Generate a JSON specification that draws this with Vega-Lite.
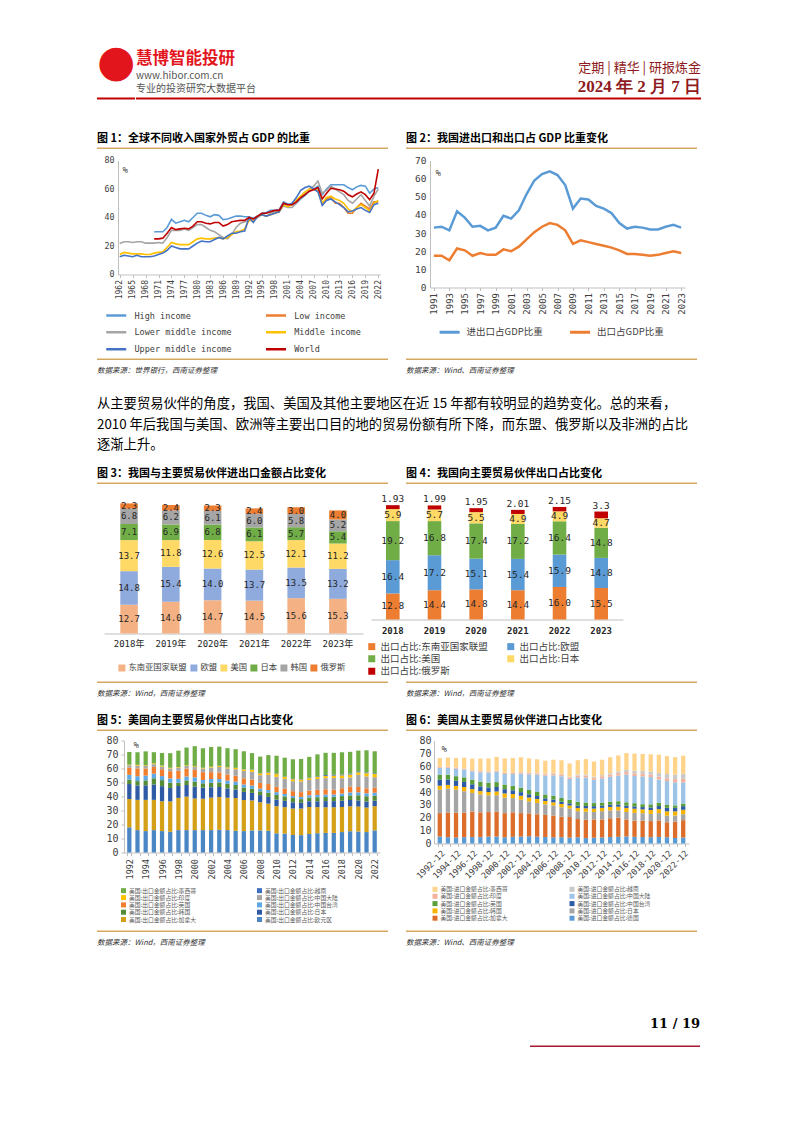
{
"$schema": "https://vega.github.io/schema/vega-lite/v6.json",
"background": "white",
"padding": {"left": 97, "top": 40.5, "right": 4, "bottom": 4},
"autosize": {"type": "pad"},
"config": {
  "view": {"stroke": null},
  "font": "Noto Sans CJK SC",
  "axis": {"labelFont": "DejaVu Sans Mono", "labelColor": "#404040", "domainColor": "#bfbfbf", "tickColor": "#bfbfbf", "grid": false, "labelFontSize": 9},
  "legend": {"labelFont": "Noto Sans CJK SC", "labelColor": "#404040"},
  "title": {"font": "Noto Sans CJK SC", "subtitleFont": "Noto Sans CJK SC", "color": "#000000", "fontWeight": "bold"}
},
"resolve": {"scale": {"color": "independent", "x": "independent", "y": "independent"}, "legend": {"color": "independent"}},
"spacing": 0,
"vconcat": [
  {
    "spacing": 0,
    "hconcat": [
      {"width": 38, "height": 2, "data": {"values": []}, "mark": "point", "encoding": {}, "view": {"fill": "#c00000", "stroke": null},
       "title": {"text": "●", "font": "DejaVu Sans", "fontSize": 44, "fontWeight": "normal", "color": "#e3151c", "anchor": "start", "offset": 13}},
      {"width": 122, "height": 2, "data": {"values": []}, "mark": "point", "encoding": {}, "view": {"fill": "#c00000", "stroke": null},
       "title": {"text": "慧博智能投研", "fontSize": 16.5, "fontWeight": "bold", "color": "#e3151c", "anchor": "start", "offset": 4,
                 "subtitle": ["www.hibor.com.cn", "专业的投资研究大数据平台"], "subtitleFontSize": 10, "subtitleColor": "#555555", "subtitlePadding": 3, "subtitleLineHeight": 13}},
      {"width": 443, "height": 2, "data": {"values": []}, "mark": "point", "encoding": {}, "view": {"fill": "#c00000", "stroke": null},
       "title": {"text": "定期 | 精华 | 研报炼金", "fontSize": 13, "fontWeight": "normal", "color": "#8e1b21", "anchor": "end", "offset": 3,
                 "subtitle": "2024 年 2 月 7 日", "subtitleFont": "Liberation Serif", "subtitleFontSize": 17, "subtitleFontWeight": "bold", "subtitleColor": "#8e1b21", "subtitlePadding": 4}}
    ]
  },
  {"width": 1, "height": 33, "data": {"values": []}, "mark": "point", "encoding": {}},
  {
    "spacing": 18,
    "hconcat": [
      {"width": 291, "height": 1.5, "data": {"values": []}, "mark": "point", "encoding": {}, "view": {"fill": "#d4a95f", "stroke": null},
       "title": {"text": "图 1：全球不同收入国家外贸占 GDP 的比重", "fontSize": 11, "anchor": "start", "offset": 4}},
      {"width": 291, "height": 1.5, "data": {"values": []}, "mark": "point", "encoding": {}, "view": {"fill": "#d4a95f", "stroke": null},
       "title": {"text": "图 2：我国进出口和出口占 GDP 比重变化", "fontSize": 11, "anchor": "start", "offset": 4}}
    ]
  },
  {"width": 1, "height": 5.5, "data": {"values": []}, "mark": "point", "encoding": {}},
  {
    "spacing": 4,
    "resolve": {"scale": {"color": "independent", "x": "independent", "y": "independent"}, "legend": {"color": "independent"}},
    "hconcat": [
      {"width": 3, "height": 1, "data": {"values": []}, "mark": "point", "encoding": {}},
      {
        "width": 262, "height": 114,
        "data": {"values": [
          {"year":1962,"Lower middle income":21.7,"Middle income":14,"Upper middle income":12.5},
          {"year":1963,"Lower middle income":23,"Middle income":15.5,"Upper middle income":13.5},
          {"year":1964,"Lower middle income":23,"Middle income":15,"Upper middle income":13},
          {"year":1965,"Lower middle income":22.5,"Middle income":14.5,"Upper middle income":12.5},
          {"year":1966,"Lower middle income":23,"Middle income":14.5,"Upper middle income":13.5},
          {"year":1967,"Lower middle income":23,"Middle income":14.5,"Upper middle income":12.5},
          {"year":1968,"Lower middle income":22,"Middle income":14,"Upper middle income":12.5},
          {"year":1969,"Lower middle income":22,"Middle income":14,"Upper middle income":12.5},
          {"year":1970,"High income":30,"Lower middle income":22,"Middle income":15,"Upper middle income":13,"World":25},
          {"year":1971,"High income":30,"Lower middle income":22.5,"Middle income":15.5,"Upper middle income":14,"World":25},
          {"year":1972,"High income":30,"Lower middle income":22,"Middle income":16,"Upper middle income":15,"World":25.5},
          {"year":1973,"High income":33,"Lower middle income":26,"Middle income":19,"Upper middle income":17,"World":29},
          {"year":1974,"High income":38.7,"Lower middle income":31,"Middle income":22.5,"Upper middle income":20,"World":33},
          {"year":1975,"High income":36,"Lower middle income":31,"Middle income":21.5,"Upper middle income":19,"World":31.5},
          {"year":1976,"High income":37,"Lower middle income":31,"Middle income":21,"Upper middle income":18,"World":32},
          {"year":1977,"High income":38,"Lower middle income":32,"Middle income":21,"Upper middle income":18,"World":32.5},
          {"year":1978,"High income":37,"Lower middle income":31,"Middle income":21,"Upper middle income":18,"World":32},
          {"year":1979,"High income":40,"Lower middle income":33,"Middle income":23,"Upper middle income":20,"World":34},
          {"year":1980,"High income":43,"Lower middle income":35,"Middle income":25,"Upper middle income":22,"World":37},
          {"year":1981,"High income":43,"Lower middle income":35,"Middle income":25.5,"Upper middle income":23.5,"World":37},
          {"year":1982,"High income":41.5,"Lower middle income":33,"Middle income":25,"Upper middle income":23,"World":36},
          {"year":1983,"High income":40.5,"Lower middle income":31,"Middle income":25,"Upper middle income":23,"World":35.5},
          {"year":1984,"High income":42,"Lower middle income":30,"Middle income":25.5,"Upper middle income":24.5,"World":36.5},
          {"year":1985,"High income":41.5,"Lower middle income":28,"Middle income":26,"Upper middle income":26,"World":36.5},
          {"year":1986,"High income":38.5,"Lower middle income":26,"Middle income":25,"Upper middle income":25,"World":34},
          {"year":1987,"High income":39,"Lower middle income":25,"Middle income":26,"Upper middle income":27,"World":35},
          {"year":1988,"High income":40,"Lower middle income":28,"Middle income":28,"Upper middle income":29,"World":37},
          {"year":1989,"High income":41,"Lower middle income":33,"Middle income":30,"Upper middle income":29,"World":37.5},
          {"year":1990,"High income":41,"Lower middle income":36,"Middle income":30.5,"Upper middle income":30,"World":38},
          {"year":1991,"High income":40.5,"Lower middle income":37,"Middle income":32,"Upper middle income":30.5,"World":38},
          {"year":1992,"High income":40.5,"Lower middle income":38,"Middle income":38,"Upper middle income":40,"World":40},
          {"year":1993,"High income":39.5,"Lower middle income":38,"Middle income":38,"Upper middle income":36.5,"World":39},
          {"year":1994,"High income":41,"Lower middle income":40,"Middle income":41,"Upper middle income":41,"World":41},
          {"year":1995,"High income":43,"Lower middle income":42,"Middle income":42,"Upper middle income":42,"World":43},
          {"year":1996,"High income":43.5,"Lower middle income":41,"Middle income":41,"Upper middle income":41,"World":43},
          {"year":1997,"High income":45,"Lower middle income":43,"Middle income":42,"Upper middle income":42,"World":44},
          {"year":1998,"High income":45,"Lower middle income":44,"Middle income":43,"Upper middle income":43,"World":45},
          {"year":1999,"High income":45.5,"Lower middle income":44,"Middle income":44,"Upper middle income":44,"World":45},
          {"year":2000,"High income":51,"Lower middle income":48,"Middle income":49,"Upper middle income":50,"World":50},
          {"year":2001,"High income":49.5,"Lower middle income":47,"Middle income":47.5,"Upper middle income":49,"World":49},
          {"year":2002,"High income":49,"Lower middle income":47,"Middle income":49,"Upper middle income":50,"World":49},
          {"year":2003,"High income":50,"Lower middle income":50,"Middle income":52,"Upper middle income":54,"World":51},
          {"year":2004,"High income":53,"Lower middle income":54,"Middle income":55,"Upper middle income":59,"World":54},
          {"year":2005,"High income":55.5,"Lower middle income":57,"Middle income":58,"Upper middle income":61,"World":56},
          {"year":2006,"High income":58.5,"Lower middle income":60,"Middle income":60,"Upper middle income":62,"World":58.5},
          {"year":2007,"High income":60,"Lower middle income":62,"Middle income":60,"Upper middle income":60,"World":59.5},
          {"year":2008,"High income":62,"Lower middle income":65.5,"Middle income":59,"Upper middle income":58,"World":61},
          {"year":2009,"High income":56,"Low income":49,"Lower middle income":57,"Middle income":50,"Upper middle income":48.5,"World":53},
          {"year":2010,"High income":60,"Low income":53,"Lower middle income":59,"Middle income":54,"Upper middle income":52,"World":57},
          {"year":2011,"High income":63,"Low income":54,"Lower middle income":62,"Middle income":55,"Upper middle income":53,"World":60.5},
          {"year":2012,"High income":63,"Low income":50,"Lower middle income":60,"Middle income":53,"Upper middle income":51,"World":60},
          {"year":2013,"High income":63,"Low income":50,"Lower middle income":58,"Middle income":52,"Upper middle income":49,"World":59.5},
          {"year":2014,"High income":63,"Low income":47,"Lower middle income":56,"Middle income":50,"Upper middle income":47,"World":58.5},
          {"year":2015,"High income":61,"Low income":43,"Lower middle income":52,"Middle income":46,"Upper middle income":44,"World":56},
          {"year":2016,"High income":59.5,"Low income":43,"Lower middle income":50,"Middle income":44,"Upper middle income":44.5,"World":54.5},
          {"year":2017,"High income":61.5,"Low income":47,"Lower middle income":53,"Middle income":47,"Upper middle income":46,"World":56.5},
          {"year":2018,"High income":62.5,"Low income":50,"Lower middle income":56,"Middle income":49,"Upper middle income":47,"World":58},
          {"year":2019,"High income":62,"Low income":48,"Lower middle income":52,"Middle income":47,"Upper middle income":45,"World":56},
          {"year":2020,"High income":57,"Low income":46,"Lower middle income":48,"Middle income":44.5,"Upper middle income":43.5,"World":52.5},
          {"year":2021,"High income":60,"Low income":51,"Lower middle income":55,"Middle income":50,"Upper middle income":49,"World":57},
          {"year":2022,"High income":61,"Low income":51,"Lower middle income":60,"Middle income":52,"Upper middle income":50,"World":74}
        ]},
        "transform": [{"fold": ["High income","Low income","Lower middle income","Middle income","Upper middle income","World"], "as": ["s","v"]}],
        "mark": {"type": "line", "strokeWidth": 1.6},
        "encoding": {
          "x": {"field": "year", "type": "quantitative", "scale": {"domain": [1961.6, 2022.4], "nice": false, "zero": false},
                "axis": {"values": [1962,1965,1968,1971,1974,1977,1980,1983,1986,1989,1992,1995,1998,2001,2004,2007,2010,2013,2016,2019,2022], "format": "d", "labelAngle": -90, "labelFontSize": 8, "title": null, "tickSize": 3, "labelPadding": 2}},
          "y": {"field": "v", "type": "quantitative", "scale": {"domain": [0, 80], "nice": false},
                "axis": {"values": [0,20,40,60,80], "title": "%", "titleAngle": 0, "titleX": 4, "titleY": 9, "titleAlign": "left", "titleBaseline": "middle", "titleFont": "DejaVu Sans Mono", "titleFontSize": 9, "titleFontWeight": "normal", "titleColor": "#404040", "labelFontSize": 8.3, "minExtent": 14, "ticks": false, "labelPadding": 4}},
          "color": {"field": "s", "type": "nominal",
                    "scale": {"domain": ["High income","Lower middle income","Upper middle income","Low income","Middle income","World"], "range": ["#5b9bd5","#a5a5a5","#4472c4","#ed7d31","#ffc000","#c00000"]},
                    "legend": {"orient": "none", "legendX": -13.25, "legendY": 143.25, "columns": 2, "title": null, "symbolType": "stroke", "symbolSize": 400, "symbolStrokeWidth": 2.5, "labelOffset": 6.75, "columnPadding": 28.75, "rowPadding": -19, "labelFont": "DejaVu Sans Mono", "labelFontSize": 8.5}}
        }
      },
      {
        "width": 255, "height": 127,
        "data": {"values": [
          {"year":1991,"进出口占GDP比重":33,"出口占GDP比重":17.5},
          {"year":1992,"进出口占GDP比重":33.5,"出口占GDP比重":17.5},
          {"year":1993,"进出口占GDP比重":31.5,"出口占GDP比重":15},
          {"year":1994,"进出口占GDP比重":42,"出口占GDP比重":21.5},
          {"year":1995,"进出口占GDP比重":38.5,"出口占GDP比重":20.5},
          {"year":1996,"进出口占GDP比重":33.5,"出口占GDP比重":17.5},
          {"year":1997,"进出口占GDP比重":34,"出口占GDP比重":19},
          {"year":1998,"进出口占GDP比重":31.5,"出口占GDP比重":18},
          {"year":1999,"进出口占GDP比重":33,"出口占GDP比重":18},
          {"year":2000,"进出口占GDP比重":39.5,"出口占GDP比重":21},
          {"year":2001,"进出口占GDP比重":38,"出口占GDP比重":20},
          {"year":2002,"进出口占GDP比重":42.5,"出口占GDP比重":22.5},
          {"year":2003,"进出口占GDP比重":51.5,"出口占GDP比重":26.5},
          {"year":2004,"进出口占GDP比重":59,"出口占GDP比重":30.5},
          {"year":2005,"进出口占GDP比重":62.5,"出口占GDP比重":33.5},
          {"year":2006,"进出口占GDP比重":64,"出口占GDP比重":35.5},
          {"year":2007,"进出口占GDP比重":62,"出口占GDP比重":34.5},
          {"year":2008,"进出口占GDP比重":56.5,"出口占GDP比重":31.5},
          {"year":2009,"进出口占GDP比重":43.5,"出口占GDP比重":24},
          {"year":2010,"进出口占GDP比重":49,"出口占GDP比重":26},
          {"year":2011,"进出口占GDP比重":48.5,"出口占GDP比重":25},
          {"year":2012,"进出口占GDP比重":45,"出口占GDP比重":24},
          {"year":2013,"进出口占GDP比重":43.5,"出口占GDP比重":23},
          {"year":2014,"进出口占GDP比重":41,"出口占GDP比重":22},
          {"year":2015,"进出口占GDP比重":35.5,"出口占GDP比重":20.5},
          {"year":2016,"进出口占GDP比重":32.5,"出口占GDP比重":18.5},
          {"year":2017,"进出口占GDP比重":33.5,"出口占GDP比重":18.5},
          {"year":2018,"进出口占GDP比重":33,"出口占GDP比重":18},
          {"year":2019,"进出口占GDP比重":32,"出口占GDP比重":17.5},
          {"year":2020,"进出口占GDP比重":32,"出口占GDP比重":18},
          {"year":2021,"进出口占GDP比重":33.5,"出口占GDP比重":19},
          {"year":2022,"进出口占GDP比重":34.5,"出口占GDP比重":20},
          {"year":2023,"进出口占GDP比重":33,"出口占GDP比重":19}
        ]},
        "transform": [{"fold": ["进出口占GDP比重","出口占GDP比重"], "as": ["s","v"]}],
        "mark": {"type": "line", "strokeWidth": 2.5},
        "encoding": {
          "x": {"field": "year", "type": "quantitative", "scale": {"domain": [1990.5, 2023.5], "nice": false, "zero": false},
                "axis": {"values": [1991,1993,1995,1997,1999,2001,2003,2005,2007,2009,2011,2013,2015,2017,2019,2021,2023], "format": "d", "labelAngle": -90, "labelFontSize": 9, "title": null, "tickSize": 3, "labelPadding": 2}},
          "y": {"field": "v", "type": "quantitative", "scale": {"domain": [0, 70], "nice": false},
                "axis": {"values": [0,10,20,30,40,50,60,70], "title": "%", "titleAngle": 0, "titleX": 5, "titleY": 12, "titleAlign": "left", "titleBaseline": "middle", "titleFont": "DejaVu Sans Mono", "titleFontSize": 9, "titleFontWeight": "normal", "titleColor": "#404040", "labelFontSize": 9.5, "minExtent": 42.4, "ticks": false, "labelPadding": 4}},
          "color": {"field": "s", "type": "nominal",
                    "scale": {"domain": ["进出口占GDP比重","出口占GDP比重"], "range": ["#5b9bd5","#ed7d31"]},
                    "legend": {"orient": "none", "legendX": 8.1, "legendY": 160, "columns": 2, "title": null, "symbolType": "stroke", "symbolSize": 400, "symbolStrokeWidth": 3, "labelOffset": 5.5, "columnPadding": 20.5, "labelFontSize": 9.5}}
        }
      }
    ]
  },
  {"width": 1, "height": 2.75, "data": {"values": []}, "mark": "point", "encoding": {}},
  {
    "spacing": 18,
    "hconcat": [
      {"width": 291, "height": 1.5, "data": {"values": []}, "mark": "point", "encoding": {}, "view": {"fill": "#d4a95f", "stroke": null},
       "title": {"text": "数据来源：世界银行，西南证券整理", "orient": "bottom", "fontSize": 7.5, "fontStyle": "italic", "fontWeight": "normal", "color": "#333333", "anchor": "start", "offset": 7}},
      {"width": 291, "height": 1.5, "data": {"values": []}, "mark": "point", "encoding": {}, "view": {"fill": "#d4a95f", "stroke": null},
       "title": {"text": "数据来源：Wind、西南证券整理", "orient": "bottom", "fontSize": 7.5, "fontStyle": "italic", "fontWeight": "normal", "color": "#333333", "anchor": "start", "offset": 7}}
    ]
  },
  {"width": 1, "height": 21.3, "data": {"values": []}, "mark": "point", "encoding": {}},
  {"width": 600, "height": 1, "data": {"values": []}, "mark": "point", "encoding": {},
   "title": {"text": ["从主要贸易伙伴的角度，我国、美国及其他主要地区在近 15 年都有较明显的趋势变化。总的来看，", "2010 年后我国与美国、欧洲等主要出口目的地的贸易份额有所下降，而东盟、俄罗斯以及非洲的占比", "逐渐上升。"],
             "fontSize": 13.3, "fontWeight": "normal", "lineHeight": 20.5, "anchor": "start", "color": "#000000", "offset": 0}},
  {"width": 1, "height": 14.3, "data": {"values": []}, "mark": "point", "encoding": {}},
  {
    "spacing": 18,
    "hconcat": [
      {"width": 291, "height": 1.5, "data": {"values": []}, "mark": "point", "encoding": {}, "view": {"fill": "#d4a95f", "stroke": null},
       "title": {"text": "图 3：我国与主要贸易伙伴进出口金额占比变化", "fontSize": 11, "anchor": "start", "offset": 4}},
      {"width": 291, "height": 1.5, "data": {"values": []}, "mark": "point", "encoding": {}, "view": {"fill": "#d4a95f", "stroke": null},
       "title": {"text": "图 4：我国向主要贸易伙伴出口占比变化", "fontSize": 11, "anchor": "start", "offset": 4}}
    ]
  },
  {"width": 1, "height": 9, "data": {"values": []}, "mark": "point", "encoding": {}},
  {
    "spacing": 4,
    "resolve": {"scale": {"color": "independent", "x": "independent", "y": "independent"}, "legend": {"color": "independent"}},
    "hconcat": [
      {"width": 3, "height": 1, "data": {"values": []}, "mark": "point", "encoding": {}},
      {
        "width": 259, "height": 136,
        "data": {"values": [
          {"year":"2018年","东南亚国家联盟":12.7,"欧盟":14.8,"美国":13.7,"日本":7.1,"韩国":6.8,"俄罗斯":2.3},
          {"year":"2019年","东南亚国家联盟":14.0,"欧盟":15.4,"美国":11.8,"日本":6.9,"韩国":6.2,"俄罗斯":2.4},
          {"year":"2020年","东南亚国家联盟":14.7,"欧盟":14.0,"美国":12.6,"日本":6.8,"韩国":6.1,"俄罗斯":2.3},
          {"year":"2021年","东南亚国家联盟":14.5,"欧盟":13.7,"美国":12.5,"日本":6.1,"韩国":6.0,"俄罗斯":2.4},
          {"year":"2022年","东南亚国家联盟":15.6,"欧盟":13.5,"美国":12.1,"日本":5.7,"韩国":5.8,"俄罗斯":3.0},
          {"year":"2023年","东南亚国家联盟":15.3,"欧盟":13.2,"美国":11.2,"日本":5.4,"韩国":5.2,"俄罗斯":4.0}
        ]},
        "transform": [
          {"fold": ["东南亚国家联盟","欧盟","美国","日本","韩国","俄罗斯"], "as": ["s","v"]},
          {"stack": "v", "groupby": ["year"], "as": ["v0","v1"]}
        ],
        "encoding": {
          "x": {"field": "year", "type": "nominal", "scale": {"paddingInner": 0.58, "paddingOuter": 0.39},
                "axis": {"labelAngle": 0, "title": null, "ticks": false, "labelPadding": 6, "labelFontSize": 9, "labelFont": "DejaVu Sans Mono, Noto Sans CJK SC", "labelColor": "#262626"}}
        },
        "layer": [
          {"mark": {"type": "bar"},
           "encoding": {
             "y": {"field": "v0", "type": "quantitative", "scale": {"domain": [0, 60], "nice": false},
                   "axis": {"values": [0,10,20,30,40,50,60], "title": "%", "titleAngle": 0, "titleX": 1, "titleY": -2, "titleAlign": "left", "titleBaseline": "middle", "titleFont": "DejaVu Sans Mono", "titleFontSize": 9, "titleFontWeight": "normal", "titleColor": "#404040", "labelFontSize": 10, "minExtent": 19.3, "tickSize": 3, "labelPadding": 3}},
             "y2": {"field": "v1"},
             "color": {"field": "s", "type": "nominal",
                       "scale": {"domain": ["东南亚国家联盟","欧盟","美国","日本","韩国","俄罗斯"], "range": ["#f4b183","#8faadc","#ffd966","#70ad47","#a5a5a5","#ed7d31"]},
                       "legend": {"orient": "none", "legendX": 13.4, "legendY": 166, "columns": 6, "direction": "horizontal", "title": null, "symbolType": "square", "symbolSize": 49, "labelOffset": 2, "columnPadding": 2, "labelFontSize": 8.3}}
           }},
          {"transform": [{"fold": ["v0","v1"], "as": ["p","pos"]}],
           "mark": {"type": "text", "font": "DejaVu Sans Mono", "fontSize": 9, "color": "#262626"},
           "encoding": {
             "y": {"aggregate": "mean", "field": "pos", "type": "quantitative", "axis": null},
             "text": {"field": "v", "type": "quantitative", "format": ".1f"},
             "detail": {"field": "s"}
           }}
        ]
      },
      {
        "width": 252, "height": 122,
        "data": {"values": [
          {"year":"2018","东南亚国家联盟":12.8,"欧盟":16.4,"美国":19.2,"日本":5.9,"俄罗斯":1.93},
          {"year":"2019","东南亚国家联盟":14.4,"欧盟":17.2,"美国":16.8,"日本":5.7,"俄罗斯":1.99},
          {"year":"2020","东南亚国家联盟":14.8,"欧盟":15.1,"美国":17.4,"日本":5.5,"俄罗斯":1.95},
          {"year":"2021","东南亚国家联盟":14.4,"欧盟":15.4,"美国":17.2,"日本":4.9,"俄罗斯":2.01},
          {"year":"2022","东南亚国家联盟":16.0,"欧盟":15.9,"美国":16.4,"日本":4.9,"俄罗斯":2.15},
          {"year":"2023","东南亚国家联盟":15.5,"欧盟":14.8,"美国":14.8,"日本":4.7,"俄罗斯":3.3}
        ]},
        "transform": [
          {"fold": ["东南亚国家联盟","欧盟","美国","日本","俄罗斯"], "as": ["s","v"]},
          {"stack": "v", "groupby": ["year"], "as": ["v0","v1"]}
        ],
        "encoding": {
          "x": {"field": "year", "type": "nominal", "scale": {"paddingInner": 0.674, "paddingOuter": 0.36},
                "axis": {"labelAngle": 0, "title": null, "ticks": false, "labelPadding": 7, "labelFontSize": 9, "labelFontWeight": "bold", "labelColor": "#262626"}}
        },
        "layer": [
          {"mark": {"type": "bar"},
           "encoding": {
             "y": {"field": "v0", "type": "quantitative", "scale": {"domain": [0, 60], "nice": false},
                   "axis": {"values": [0,10,20,30,40,50,60], "title": "%", "titleAngle": 0, "titleX": 6, "titleY": -4, "titleAlign": "left", "titleBaseline": "middle", "titleFont": "DejaVu Sans Mono", "titleFontSize": 9, "titleFontWeight": "normal", "titleColor": "#404040", "labelFontSize": 10, "minExtent": 44.4, "ticks": false, "labelPadding": 5}},
             "y2": {"field": "v1"},
             "color": {"field": "s", "type": "nominal",
                       "scale": {"domain": ["东南亚国家联盟","美国","俄罗斯","欧盟","日本"], "range": ["#ed7d31","#70ad47","#c00000","#5b9bd5","#ffd966"]},
                       "legend": {"orient": "none", "legendX": -4, "legendY": 144, "columns": 2, "title": null, "symbolType": "square", "symbolSize": 49, "labelOffset": 4, "columnPadding": 18, "rowPadding": 1.5, "labelFontSize": 9.5, "labelExpr": "'出口占比:' + datum.label"}}
           }},
          {"transform": [{"fold": ["v0","v1"], "as": ["p","pos"]}],
           "mark": {"type": "text", "font": "DejaVu Sans Mono", "fontSize": 9.5, "color": "#262626"},
           "encoding": {
             "y": {"aggregate": "mean", "field": "pos", "type": "quantitative", "axis": null},
             "text": {"field": "v", "type": "quantitative", "format": ".1f"},
             "detail": {"field": "s"},
             "opacity": {"condition": {"test": "datum.s == '俄罗斯'", "value": 0}, "value": 1}
           }},
          {"transform": [{"fold": ["v0","v1"], "as": ["p","pos"]}],
           "mark": {"type": "text", "font": "DejaVu Sans Mono", "fontSize": 9.5, "color": "#262626", "dy": -6},
           "encoding": {
             "y": {"aggregate": "max", "field": "pos", "type": "quantitative", "axis": null},
             "text": {"field": "v", "type": "quantitative"},
             "detail": {"field": "s"},
             "opacity": {"condition": {"test": "datum.s == '俄罗斯'", "value": 1}, "value": 0}
           }}
        ]
      }
    ]
  },
  {"width": 1, "height": 4.5, "data": {"values": []}, "mark": "point", "encoding": {}},
  {
    "spacing": 18,
    "hconcat": [
      {"width": 291, "height": 1.5, "data": {"values": []}, "mark": "point", "encoding": {}, "view": {"fill": "#d4a95f", "stroke": null},
       "title": {"text": "数据来源：Wind，西南证券整理", "orient": "bottom", "fontSize": 7.5, "fontStyle": "italic", "fontWeight": "normal", "color": "#333333", "anchor": "start", "offset": 7}},
      {"width": 291, "height": 1.5, "data": {"values": []}, "mark": "point", "encoding": {}, "view": {"fill": "#d4a95f", "stroke": null},
       "title": {"text": "数据来源：Wind，西南证券整理", "orient": "bottom", "fontSize": 7.5, "fontStyle": "italic", "fontWeight": "normal", "color": "#333333", "anchor": "start", "offset": 7}}
    ]
  },
  {"width": 1, "height": 17, "data": {"values": []}, "mark": "point", "encoding": {}},
  {
    "spacing": 18,
    "hconcat": [
      {"width": 291, "height": 1.5, "data": {"values": []}, "mark": "point", "encoding": {}, "view": {"fill": "#d4a95f", "stroke": null},
       "title": {"text": "图 5：美国向主要贸易伙伴出口占比变化", "fontSize": 11, "anchor": "start", "offset": 4}},
      {"width": 291, "height": 1.5, "data": {"values": []}, "mark": "point", "encoding": {}, "view": {"fill": "#d4a95f", "stroke": null},
       "title": {"text": "图 6：美国从主要贸易伙伴进口占比变化", "fontSize": 11, "anchor": "start", "offset": 4}}
    ]
  },
  {"width": 1, "height": 3.7, "data": {"values": []}, "mark": "point", "encoding": {}},
  {
    "spacing": 4,
    "resolve": {"scale": {"color": "independent", "x": "independent", "y": "independent"}, "legend": {"color": "independent"}},
    "hconcat": [
      {"width": 3, "height": 1, "data": {"values": []}, "mark": "point", "encoding": {}},
      {
        "width": 256, "height": 112,
        "data": {"values": [
          {"year":"1992","欧元区":18.0,"加拿大":20.2,"日本":10.7,"韩国":3.2,"中国台湾":3.4,"英国":5.1,"中国大陆":1.7,"印度":0.4,"越南":0.0,"墨西哥":9.1},
          {"year":"1993","欧元区":16.0,"加拿大":21.6,"日本":10.3,"韩国":3.1,"中国台湾":3.5,"英国":5.6,"中国大陆":1.9,"印度":0.6,"越南":0.0,"墨西哥":9.0},
          {"year":"1994","欧元区":15.3,"加拿大":22.3,"日本":10.4,"韩国":3.5,"中国台湾":3.4,"英国":5.1,"中国大陆":1.8,"印度":0.5,"越南":0.03,"墨西哥":9.9},
          {"year":"1995","欧元区":16.0,"加拿大":21.6,"日本":11.0,"韩国":4.4,"中国台湾":3.3,"英国":4.8,"中国大陆":2.0,"印度":0.6,"越南":0.04,"墨西哥":7.9},
          {"year":"1996","欧元区":15.3,"加拿大":21.3,"日本":10.8,"韩国":4.3,"中国台湾":2.9,"英国":4.9,"中国大陆":1.9,"印度":0.6,"越南":0.1,"墨西哥":9.0},
          {"year":"1997","欧元区":14.8,"加拿大":21.7,"日本":9.6,"韩国":3.8,"中国台湾":3.0,"英国":5.2,"中国大陆":1.9,"印度":0.5,"越南":0.04,"墨西哥":10.4},
          {"year":"1998","欧元区":16.0,"加拿大":23.0,"日本":8.5,"韩国":2.4,"中国台湾":2.7,"英国":5.8,"中国大陆":2.1,"印度":0.5,"越南":0.04,"墨西哥":11.7},
          {"year":"1999","欧元区":16.0,"加拿大":23.9,"日本":8.3,"韩国":3.3,"中国台湾":2.8,"英国":5.6,"中国大陆":1.9,"印度":0.5,"越南":0.04,"墨西哥":12.6},
          {"year":"2000","欧元区":16.0,"加拿大":22.6,"日本":8.4,"韩国":3.6,"中国台湾":3.1,"英国":5.3,"中国大陆":2.1,"印度":0.5,"越南":0.05,"墨西哥":14.3},
          {"year":"2001","欧元区":16.0,"加拿大":22.4,"日本":7.9,"韩国":3.1,"中国台湾":2.4,"英国":5.6,"中国大陆":2.6,"印度":0.5,"越南":0.06,"墨西哥":13.9},
          {"year":"2002","欧元区":16.0,"加拿大":23.2,"日本":7.4,"韩国":3.2,"中国台湾":2.7,"英国":4.9,"中国大陆":3.2,"印度":0.6,"越南":0.08,"墨西哥":14.1},
          {"year":"2003","欧元区":16.2,"加拿大":23.4,"日本":7.2,"韩国":3.3,"中国台湾":2.4,"英国":4.7,"中国大陆":3.9,"印度":0.7,"越南":0.2,"墨西哥":13.6},
          {"year":"2004","欧元区":16.0,"加拿大":23.1,"日本":6.7,"韩国":3.2,"中国台湾":2.4,"英国":4.4,"中国大陆":4.3,"印度":0.7,"越南":0.1,"墨西哥":13.6},
          {"year":"2005","欧元区":15.5,"加拿大":23.4,"日本":6.1,"韩国":3.2,"中国台湾":2.4,"英国":4.3,"中国大陆":4.6,"印度":0.9,"越南":0.1,"墨西哥":13.3},
          {"year":"2006","欧元区":15.3,"加拿大":22.2,"日本":5.8,"韩国":3.1,"中国台湾":2.2,"英国":4.4,"中国大陆":5.3,"印度":1.0,"越南":0.1,"墨西哥":12.9},
          {"year":"2007","欧元区":15.8,"加拿大":21.4,"日本":5.4,"韩国":2.9,"中国台湾":2.3,"英国":4.3,"中国大陆":5.6,"印度":1.4,"越南":0.2,"墨西哥":11.7},
          {"year":"2008","欧元区":15.8,"加拿大":20.1,"日本":5.1,"韩国":2.7,"中国台湾":1.9,"英国":4.1,"中国大陆":5.5,"印度":1.4,"越南":0.2,"墨西哥":11.7},
          {"year":"2009","欧元区":15.5,"加拿大":19.4,"日本":4.8,"韩国":3.0,"中国台湾":1.9,"英国":4.3,"中国大陆":6.6,"印度":1.6,"越南":0.3,"墨西哥":12.2},
          {"year":"2010","欧元区":13.7,"加拿大":19.4,"日本":4.7,"韩国":3.3,"中国台湾":2.0,"英国":3.8,"中国大陆":7.2,"印度":1.9,"越南":0.3,"墨西哥":12.8},
          {"year":"2011","欧元区":13.5,"加拿大":18.9,"日本":4.5,"韩国":3.2,"中国台湾":1.7,"英国":3.8,"中国大陆":7.0,"印度":1.4,"越南":0.3,"墨西哥":13.4},
          {"year":"2012","欧元区":12.5,"加拿大":18.9,"日本":4.5,"韩国":3.0,"中国台湾":1.4,"英国":3.5,"中国大陆":7.1,"印度":1.4,"越南":0.3,"墨西哥":14.0},
          {"year":"2013","欧元区":12.4,"加拿大":19.0,"日本":4.1,"韩国":2.6,"中国台湾":1.6,"英国":3.4,"中国大陆":7.7,"印度":1.4,"越南":0.3,"墨西哥":14.3},
          {"year":"2014","欧元区":13.2,"加拿大":19.3,"日本":4.1,"韩国":2.7,"中国台湾":1.6,"英国":3.3,"中国大陆":7.6,"印度":1.3,"越南":0.4,"墨西哥":14.8},
          {"year":"2015","欧元区":13.8,"加拿大":18.6,"日本":4.2,"韩国":2.9,"中国台湾":1.6,"英国":3.7,"中国大陆":7.7,"印度":1.4,"越南":0.5,"墨西哥":15.7},
          {"year":"2016","欧元区":14.0,"加拿大":18.3,"日本":4.4,"韩国":2.9,"中国台湾":1.8,"英国":3.7,"中国大陆":8.0,"印度":1.5,"越南":0.7,"墨西哥":15.9},
          {"year":"2017","欧元区":14.0,"加拿大":18.3,"日本":4.4,"韩国":3.1,"中国台湾":1.6,"英国":3.5,"中国大陆":8.4,"印度":1.6,"越南":0.6,"墨西哥":15.7},
          {"year":"2018","欧元区":14.6,"加拿大":17.9,"日本":4.5,"韩国":3.3,"中国台湾":1.8,"英国":3.8,"中国大陆":7.2,"印度":2.0,"越南":0.6,"墨西哥":15.9},
          {"year":"2019","欧元区":15.2,"加拿大":17.8,"日本":4.5,"韩国":3.3,"中国台湾":2.1,"英国":4.2,"中国大陆":6.5,"印度":2.1,"越南":0.6,"墨西哥":15.6},
          {"year":"2020","欧元区":15.0,"加拿大":17.8,"日本":4.4,"韩国":3.7,"中国台湾":2.1,"英国":3.8,"中国大陆":8.7,"印度":1.8,"越南":0.7,"墨西哥":14.8},
          {"year":"2021","欧元区":14.6,"加拿大":17.5,"日本":4.3,"韩国":3.8,"中国台湾":2.1,"英国":3.5,"中国大陆":8.6,"印度":2.2,"越南":0.6,"墨西哥":15.8},
          {"year":"2022","欧元区":15.8,"加拿大":17.3,"日本":3.9,"韩国":3.6,"中国台湾":2.1,"英国":3.6,"中国大陆":7.5,"印度":2.3,"越南":0.5,"墨西哥":15.7}
        ]},
        "transform": [
          {"fold": ["欧元区","加拿大","日本","韩国","中国台湾","英国","中国大陆","印度","越南","墨西哥"], "as": ["s","v"]},
          {"stack": "v", "groupby": ["year"], "as": ["v0","v1"]}
        ],
        "mark": {"type": "bar"},
        "encoding": {
          "x": {"field": "year", "type": "nominal", "scale": {"paddingInner": 0.48, "paddingOuter": 0.39},
                "axis": {"labelAngle": -90, "title": null, "labelFontSize": 8.5, "tickSize": 3, "tickBand": "extent", "labelPadding": 3, "labelExpr": "isValid(datum.value) && toNumber(datum.value) % 2 == 0 ? datum.value : ''"}},
          "y": {"field": "v0", "type": "quantitative", "scale": {"domain": [0, 80], "nice": false},
                "axis": {"values": [0,10,20,30,40,50,60,70,80], "title": "%", "titleAngle": 0, "titleX": 9, "titleY": 4, "titleAlign": "left", "titleBaseline": "middle", "titleFont": "DejaVu Sans Mono", "titleFontSize": 9, "titleFontWeight": "normal", "titleColor": "#404040", "labelFontSize": 10, "minExtent": 19.3, "tickSize": 3, "labelPadding": 3}},
          "y2": {"field": "v1"},
          "color": {"field": "s", "type": "nominal",
                    "scale": {"domain": ["墨西哥","印度","英国","韩国","加拿大","越南","中国大陆","中国台湾","日本","欧元区"],
                              "range": ["#70ad47","#ffc000","#f07e2e","#568c35","#d4a017","#3e6fc1","#a6a6a6","#5fa8e6","#2f5aa6","#4a86c3"]},
                    "legend": {"orient": "none", "legendX": -4, "legendY": 146.3, "columns": 2, "title": null, "symbolType": "square", "symbolSize": 25, "labelOffset": 2, "columnPadding": 60, "rowPadding": 0.3, "labelFontSize": 5.8, "labelColor": "#595959", "labelExpr": "'美国:出口金额占比:' + datum.label"}}
        }
      },
      {
        "width": 255, "height": 103,
        "data": {"values": [
          {"year":"1992","德国":5.4,"加拿大":18.2,"日本":18.2,"韩国":3.1,"中国台湾":4.6,"英国":3.8,"中国大陆":5.5,"印度":0.7,"越南":0,"墨西哥":6.9},
          {"year":"1993","德国":4.9,"加拿大":19.2,"日本":18.5,"韩国":2.9,"中国台湾":4.3,"英国":3.7,"中国大陆":5.4,"印度":0.9,"越南":0,"墨西哥":7.0},
          {"year":"1994","德国":4.6,"加拿大":19.3,"日本":17.9,"韩国":2.9,"中国台湾":4.0,"英国":3.6,"中国大陆":5.8,"印度":0.9,"越南":0,"墨西哥":7.4},
          {"year":"1995","德国":4.9,"加拿大":19.1,"日本":16.6,"韩国":3.3,"中国台湾":3.9,"英国":3.6,"中国大陆":6.1,"印度":0.8,"越南":0.02,"墨西哥":8.3},
          {"year":"1996","德国":5.0,"加拿大":19.8,"日本":14.5,"韩国":2.9,"中国台湾":3.8,"英国":3.6,"中国大陆":6.5,"印度":0.8,"越南":0.04,"墨西哥":9.0},
          {"year":"1997","德国":4.9,"加拿大":19.3,"日本":13.9,"韩国":2.6,"中国台湾":3.7,"英国":3.7,"中国大陆":7.2,"印度":0.9,"越南":0.04,"墨西哥":9.7},
          {"year":"1998","德国":5.4,"加拿大":19.0,"日本":13.0,"韩国":2.6,"中国台湾":3.6,"英国":3.7,"中国大陆":7.8,"印度":0.9,"越南":0.06,"墨西哥":10.0},
          {"year":"1999","德国":5.4,"加拿大":19.3,"日本":12.8,"韩国":2.9,"中国台湾":3.5,"英国":3.8,"中国大陆":8.0,"印度":0.9,"越南":0.06,"墨西哥":10.6},
          {"year":"2000","德国":4.8,"加拿大":18.8,"日本":12.0,"韩国":3.3,"中国台湾":3.3,"英国":3.6,"中国大陆":8.2,"印度":0.9,"越南":0.07,"墨西哥":11.1},
          {"year":"2001","德国":5.2,"加拿大":19.0,"日本":11.1,"韩国":3.1,"中国台湾":2.9,"英国":3.6,"中国大陆":9.0,"印度":0.9,"越南":0.09,"墨西哥":11.5},
          {"year":"2002","德国":5.4,"加拿大":18.2,"日本":10.4,"韩国":3.1,"中国台湾":2.8,"英国":3.5,"中国大陆":10.8,"印度":1.0,"越南":0.2,"墨西哥":11.6},
          {"year":"2003","德国":5.6,"加拿大":17.8,"日本":9.3,"韩国":3.0,"中国台湾":2.5,"英国":3.4,"中国大陆":12.1,"印度":1.0,"越南":0.4,"墨西哥":11.0},
          {"year":"2004","德国":5.3,"加拿大":17.4,"日本":8.8,"韩国":3.1,"中国台湾":2.3,"英国":3.1,"中国大陆":13.4,"印度":1.0,"越南":0.4,"墨西哥":10.6},
          {"year":"2005","德国":5.0,"加拿大":17.2,"日本":8.2,"韩国":2.6,"中国台湾":2.1,"英国":3.0,"中国大陆":14.6,"印度":1.1,"越南":0.4,"墨西哥":10.1},
          {"year":"2006","德国":4.8,"加拿大":16.9,"日本":7.9,"韩国":2.4,"中国台湾":2.1,"英国":2.9,"中国大陆":15.9,"印度":1.2,"越南":0.5,"墨西哥":10.5},
          {"year":"2007","德国":4.8,"加拿大":16.0,"日本":7.4,"韩国":2.4,"中国台湾":1.9,"英国":2.9,"中国大陆":16.9,"印度":1.2,"越南":0.5,"墨西哥":10.6},
          {"year":"2008","德国":4.6,"加拿大":16.0,"日本":6.6,"韩国":2.3,"中国台湾":1.7,"英国":2.8,"中国大陆":16.1,"印度":1.2,"越南":0.6,"墨西哥":10.3},
          {"year":"2009","德国":4.8,"加拿大":14.2,"日本":6.1,"韩国":2.5,"中国台湾":1.8,"英国":3.0,"中国大陆":19.0,"印度":1.4,"越南":0.8,"墨西哥":11.1},
          {"year":"2010","德国":4.2,"加拿大":14.2,"日本":6.3,"韩国":2.6,"中国台湾":1.9,"英国":2.6,"中国大陆":19.5,"印度":1.5,"越南":0.8,"墨西哥":12.0},
          {"year":"2011","德国":4.5,"加拿大":14.2,"日本":5.8,"韩国":2.6,"中国台湾":1.9,"英国":2.4,"中国大陆":18.1,"印度":1.6,"越南":0.8,"墨西哥":11.8},
          {"year":"2012","德国":4.7,"加拿大":14.0,"日本":6.4,"韩国":2.6,"中国台湾":1.7,"英国":2.4,"中国大陆":18.7,"印度":1.7,"越南":0.9,"墨西哥":12.0},
          {"year":"2013","德国":5.0,"加拿大":14.6,"日本":6.1,"韩国":2.7,"中国台湾":1.7,"英国":2.3,"中国大陆":19.4,"印度":1.8,"越南":1.0,"墨西哥":12.4},
          {"year":"2014","德国":5.2,"加拿大":14.8,"日本":5.7,"韩国":2.9,"中国台湾":1.7,"英国":2.5,"中国大陆":19.9,"印度":1.9,"越南":1.3,"墨西哥":12.5},
          {"year":"2015","德国":5.5,"加拿大":13.2,"日本":5.8,"韩国":3.1,"中国台湾":1.8,"英国":2.6,"中国大陆":21.5,"印度":2.0,"越南":1.6,"墨西哥":13.2},
          {"year":"2016","德国":5.2,"加拿大":12.6,"日本":6.0,"韩国":3.2,"中国台湾":1.8,"英国":2.5,"中国大陆":21.1,"印度":2.1,"越南":1.9,"墨西哥":13.4},
          {"year":"2017","德国":5.0,"加拿大":12.7,"日本":5.8,"韩国":3.0,"中国台湾":1.8,"英国":2.2,"中国大陆":21.6,"印度":2.1,"越南":2.0,"墨西哥":13.3},
          {"year":"2018","德国":4.9,"加拿大":12.5,"日本":5.6,"韩国":3.0,"中国台湾":2.0,"英国":2.4,"中国大陆":21.2,"印度":2.1,"越南":2.0,"墨西哥":13.6},
          {"year":"2019","德国":5.1,"加拿大":12.8,"日本":5.7,"韩国":3.1,"中国台湾":2.4,"英国":2.5,"中国大陆":18.1,"印度":2.3,"越南":2.7,"墨西哥":14.3},
          {"year":"2020","德国":4.9,"加拿大":11.6,"日本":5.1,"韩国":3.4,"中国台湾":2.7,"英国":2.2,"中国大陆":18.6,"印度":2.1,"越南":3.4,"墨西哥":13.9},
          {"year":"2021","德国":4.3,"加拿大":12.6,"日本":4.8,"韩国":3.3,"中国台湾":2.7,"英国":1.9,"中国大陆":17.9,"印度":2.5,"越南":3.5,"墨西哥":13.6},
          {"year":"2022","德国":4.6,"加拿大":13.5,"日本":4.6,"韩国":3.5,"中国台湾":2.8,"英国":2.0,"中国大陆":16.5,"印度":2.7,"越南":3.9,"墨西哥":14.1}
        ]},
        "transform": [
          {"fold": ["德国","加拿大","日本","韩国","中国台湾","英国","中国大陆","印度","越南","墨西哥"], "as": ["s","v"]},
          {"stack": "v", "groupby": ["year"], "as": ["v0","v1"]}
        ],
        "mark": {"type": "bar"},
        "encoding": {
          "x": {"field": "year", "type": "nominal", "scale": {"paddingInner": 0.47, "paddingOuter": 0.45},
                "axis": {"labelAngle": -45, "title": null, "labelFontSize": 8.5, "tickSize": 3, "tickBand": "extent", "labelPadding": 2, "labelExpr": "isValid(datum.value) && toNumber(datum.value) % 2 == 0 ? datum.value + '-12' : ''"}},
          "y": {"field": "v0", "type": "quantitative", "scale": {"domain": [0, 80], "nice": false},
                "axis": {"values": [0,10,20,30,40,50,60,70,80], "title": "%", "titleAngle": 0, "titleX": 7, "titleY": 8, "titleAlign": "left", "titleBaseline": "middle", "titleFont": "DejaVu Sans Mono", "titleFontSize": 9, "titleFontWeight": "normal", "titleColor": "#404040", "labelFontSize": 10, "minExtent": 49.7, "ticks": false, "labelPadding": 3}},
          "y2": {"field": "v1"},
          "color": {"field": "s", "type": "nominal",
                    "scale": {"domain": ["墨西哥","印度","英国","韩国","加拿大","越南","中国大陆","中国台湾","日本","德国"],
                              "range": ["#ffd48a","#f4b29b","#5a9e3a","#f5b400","#dd6d2a","#c9c9c9","#9dc3e6","#2e5ba8","#a5a5a5","#5a9bd5"]},
                    "legend": {"orient": "none", "legendX": -2.5, "legendY": 145, "columns": 2, "title": null, "symbolType": "square", "symbolSize": 25, "labelOffset": 2, "columnPadding": 61, "rowPadding": 0.3, "labelFontSize": 5.8, "labelColor": "#595959", "labelExpr": "'美国:进口金额占比:' + datum.label"}}
        }
      }
    ]
  },
  {"width": 1, "height": 6.75, "data": {"values": []}, "mark": "point", "encoding": {}},
  {
    "spacing": 18,
    "hconcat": [
      {"width": 291, "height": 1.5, "data": {"values": []}, "mark": "point", "encoding": {}, "view": {"fill": "#d4a95f", "stroke": null},
       "title": {"text": "数据来源：Wind，西南证券整理", "orient": "bottom", "fontSize": 7.5, "fontStyle": "italic", "fontWeight": "normal", "color": "#333333", "anchor": "start", "offset": 7}},
      {"width": 291, "height": 1.5, "data": {"values": []}, "mark": "point", "encoding": {}, "view": {"fill": "#d4a95f", "stroke": null},
       "title": {"text": "数据来源：Wind、西南证券整理", "orient": "bottom", "fontSize": 7.5, "fontStyle": "italic", "fontWeight": "normal", "color": "#333333", "anchor": "start", "offset": 7}}
    ]
  },
  {"width": 1, "height": 70.5, "data": {"values": []}, "mark": "point", "encoding": {}},
  {
    "spacing": 0,
    "hconcat": [
      {"width": 433, "height": 1.5, "data": {"values": []}, "mark": "point", "encoding": {}},
      {"width": 170, "height": 1.5, "data": {"values": []}, "mark": "point", "encoding": {}, "view": {"fill": "#a6192e", "stroke": null},
       "title": {"text": "11 / 19", "font": "DejaVu Serif", "fontSize": 13, "fontWeight": "bold", "anchor": "end", "color": "#000000", "offset": 15}}
    ]
  }
]
}
